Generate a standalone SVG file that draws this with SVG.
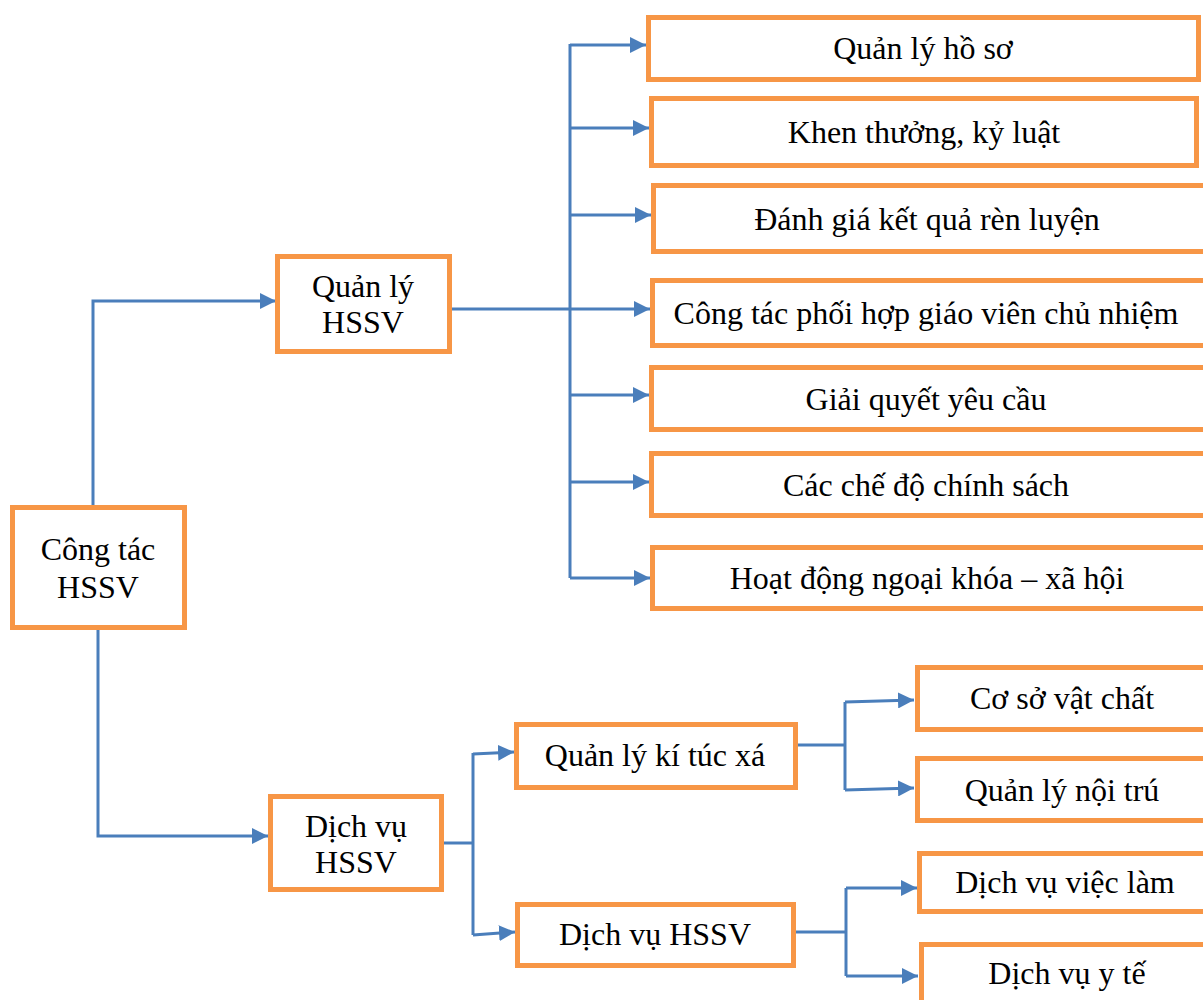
<svg xmlns="http://www.w3.org/2000/svg" width="1203" height="1000" viewBox="0 0 1203 1000">
  <style>
    .box { fill: #ffffff; stroke: #F79646; stroke-width: 5; }
    .lbl { font-family: "Liberation Serif", "Times New Roman", serif; font-size: 32px; fill: #000000; text-anchor: middle; }
    .wire { fill: none; stroke: #4A7EBB; stroke-width: 3; }
    .arrow { fill: none; stroke: #4A7EBB; stroke-width: 3; marker-end: url(#tip); }
  </style>
  <defs>
    <marker id="tip" viewBox="0 0 10 10" refX="10" refY="5" markerWidth="16" markerHeight="16" markerUnits="userSpaceOnUse" orient="auto">
      <path d="M0,0 L10,5 L0,10 Z" fill="#4A7EBB"/>
    </marker>
  </defs>
  <rect width="1203" height="1000" fill="#ffffff"/>

  <!-- connectors -->
  <g id="connectors">
    <path class="arrow" d="M93,506 V301 H276"/>
    <path class="arrow" d="M98,630 V836 H268"/>

    <path class="wire" d="M452,309 H570"/>
    <path class="wire" d="M570,44 V578"/>
    <path class="arrow" d="M570,45 H646"/>
    <path class="arrow" d="M570,128 H649"/>
    <path class="arrow" d="M570,215 H651"/>
    <path class="arrow" d="M570,309 H650"/>
    <path class="arrow" d="M570,395 H649"/>
    <path class="arrow" d="M570,482 H649"/>
    <path class="arrow" d="M570,578 H650"/>

    <path class="wire" d="M443,843 H473"/>
    <path class="wire" d="M473,753 V935"/>
    <path class="arrow" d="M473,754 L514,752"/>
    <path class="arrow" d="M473,935 L515,932"/>

    <path class="wire" d="M797,745 H845"/>
    <path class="wire" d="M845,702 V790"/>
    <path class="arrow" d="M845,702 L914,700"/>
    <path class="arrow" d="M845,790 L914,788"/>

    <path class="wire" d="M795,932 H846"/>
    <path class="wire" d="M846,888 V976"/>
    <path class="arrow" d="M846,888 H917"/>
    <path class="arrow" d="M846,976 H918"/>
  </g>

  <!-- root -->
  <g id="cong-tac-hssv">
    <rect class="box" x="12.5" y="507.5" width="172" height="120"/>
    <text class="lbl" x="98" y="560">Công tác</text>
    <text class="lbl" x="98" y="598">HSSV</text>
  </g>

  <!-- level 1 -->
  <g id="quan-ly-hssv">
    <rect class="box" x="277.5" y="256.5" width="172" height="95"/>
    <text class="lbl" x="363" y="297">Quản lý</text>
    <text class="lbl" x="363" y="333">HSSV</text>
  </g>
  <g id="dich-vu-hssv">
    <rect class="box" x="270.5" y="796.5" width="171" height="93"/>
    <text class="lbl" x="356" y="837">Dịch vụ</text>
    <text class="lbl" x="356" y="873">HSSV</text>
  </g>

  <!-- management branch -->
  <g id="quan-ly-ho-so">
    <rect class="box" x="648.5" y="17.5" width="550" height="62"/>
    <text class="lbl" x="923" y="59">Quản lý hồ sơ</text>
  </g>
  <g id="khen-thuong">
    <rect class="box" x="651.5" y="98.5" width="545" height="67"/>
    <text class="lbl" x="924" y="143">Khen thưởng, kỷ luật</text>
  </g>
  <g id="danh-gia">
    <rect class="box" x="653.5" y="185.5" width="555" height="66"/>
    <text class="lbl" x="927" y="230">Đánh giá kết quả rèn luyện</text>
  </g>
  <g id="phoi-hop-gvcn">
    <rect class="box" x="652.5" y="280.5" width="555" height="65"/>
    <text class="lbl" x="926" y="324">Công tác phối hợp giáo viên chủ nhiệm</text>
  </g>
  <g id="giai-quyet">
    <rect class="box" x="651.5" y="367.5" width="555" height="62"/>
    <text class="lbl" x="926" y="410">Giải quyết yêu cầu</text>
  </g>
  <g id="che-do">
    <rect class="box" x="651.5" y="453.5" width="555" height="62"/>
    <text class="lbl" x="926" y="496">Các chế độ chính sách</text>
  </g>
  <g id="ngoai-khoa">
    <rect class="box" x="652.5" y="547.5" width="555" height="61"/>
    <text class="lbl" x="927" y="589">Hoạt động ngoại khóa – xã hội</text>
  </g>

  <!-- service branch -->
  <g id="quan-ly-ktx">
    <rect class="box" x="516.5" y="724.5" width="279" height="63"/>
    <text class="lbl" x="655" y="766">Quản lý kí túc xá</text>
  </g>
  <g id="dich-vu-hssv-sub">
    <rect class="box" x="517.5" y="904.5" width="276" height="61"/>
    <text class="lbl" x="655" y="945">Dịch vụ HSSV</text>
  </g>
  <g id="co-so-vat-chat">
    <rect class="box" x="917.5" y="667.5" width="290" height="62"/>
    <text class="lbl" x="1062" y="709">Cơ sở vật chất</text>
  </g>
  <g id="quan-ly-noi-tru">
    <rect class="box" x="917.5" y="758.5" width="290" height="62"/>
    <text class="lbl" x="1062" y="801">Quản lý nội trú</text>
  </g>
  <g id="dich-vu-viec-lam">
    <rect class="box" x="919.5" y="853.5" width="290" height="58"/>
    <text class="lbl" x="1065" y="893">Dịch vụ việc làm</text>
  </g>
  <g id="dich-vu-y-te">
    <rect class="box" x="921.5" y="944.5" width="290" height="70"/>
    <text class="lbl" x="1067" y="984">Dịch vụ y tế</text>
  </g>
</svg>
